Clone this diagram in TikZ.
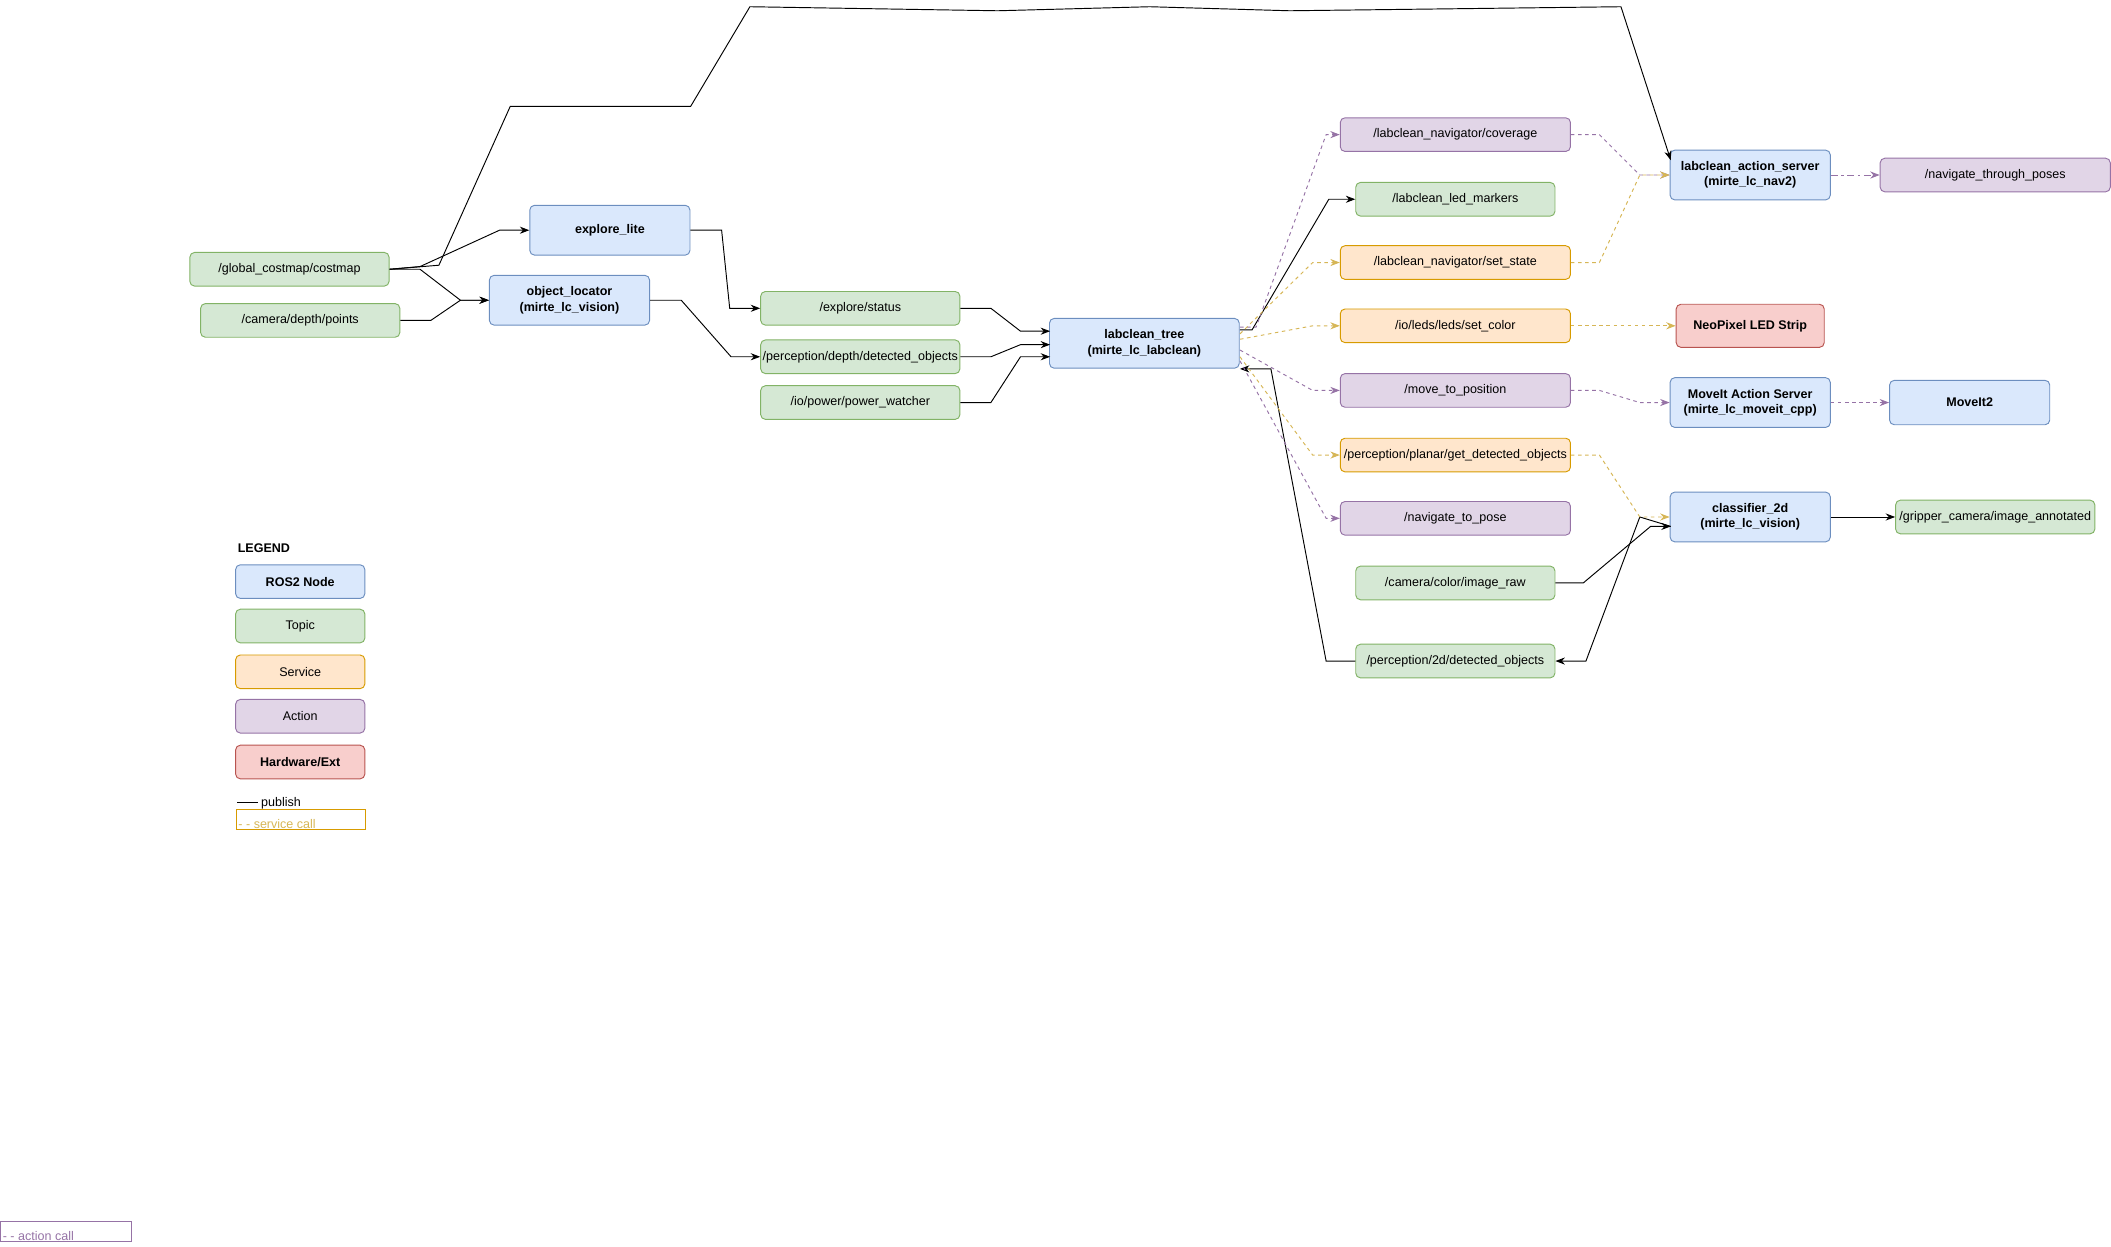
\documentclass[tikz,border=0pt]{standalone}
\usepackage{fontspec}
\setmainfont{Liberation Sans}
\usepackage{tikz}
\usetikzlibrary{arrows.meta,calc,positioning}
\definecolor{nodefill}{HTML}{DAE8FC}\definecolor{nodeline}{HTML}{6C8EBF}
\definecolor{topfill}{HTML}{D5E8D4}\definecolor{topline}{HTML}{82B366}
\definecolor{srvfill}{HTML}{FFE6CC}\definecolor{srvline}{HTML}{D79B00}
\definecolor{actfill}{HTML}{E1D5E7}\definecolor{actline}{HTML}{9673A6}
\definecolor{hwfill}{HTML}{F8CECC}\definecolor{hwline}{HTML}{B85450}
\definecolor{callsrv}{HTML}{D6B656}
\tikzset{
  txt/.style={font=\fontsize{5.3}{6.4}\selectfont},
  base/.style={draw,rounded corners=2pt,inner sep=0pt,align=center,txt},
  rosnode/.style={base,fill=nodefill,draw=nodeline,minimum width=2.38cm,minimum height=0.74cm,font=\fontsize{5.3}{6.4}\selectfont\bfseries},
  topic/.style={base,fill=topfill,draw=topline,minimum width=2.96cm,minimum height=0.5cm},
  service/.style={base,fill=srvfill,draw=srvline,minimum width=3.42cm,minimum height=0.5cm},
  action/.style={base,fill=actfill,draw=actline,minimum width=3.42cm,minimum height=0.5cm},
  hw/.style={base,fill=hwfill,draw=hwline,minimum width=2.2cm,minimum height=0.64cm,font=\fontsize{5.3}{6.4}\selectfont\bfseries},
  leg/.style={minimum width=1.92cm,minimum height=0.5cm},
  pub/.style={-{Stealth[length=4pt]},thin},
  srv/.style={-{Stealth[length=4pt]},thin,draw=callsrv,dash pattern=on 1.5pt off 1.5pt},
  act/.style={-{Stealth[length=4pt]},thin,draw=actline,dash pattern=on 1.5pt off 1.5pt},
}
\begin{document}
\begin{tikzpicture}[x=0.02cm,y=-0.02cm]
\useasboundingbox (0,0) rectangle (1568,926);
% left side
\node[topic] (glob) at (215,200) {/global\_costmap/costmap};
\node[topic] (depthpts) at (223,238) {/camera/depth/points};
\node[rosnode] (explore) at (453,171) {explore\_lite};
\node[rosnode] (locator) at (423,223) {object\_locator\\(mirte\_lc\_vision)};
\node[topic] (status) at (639,229) {/explore/status};
\node[topic] (detobj) at (639,265) {/perception/depth/detected\_objects};
\node[topic] (power) at (639,299) {/io/power/power\_watcher};
\node[rosnode,minimum width=2.82cm] (tree) at (850,255) {labclean\_tree\\(mirte\_lc\_labclean)};
% right column
\node[action] (coverage) at (1081,100) {/labclean\_navigator/coverage};
\node[topic] (leds) at (1081,148) {/labclean\_led\_markers};
\node[service] (setstate) at (1081,195) {/labclean\_navigator/set\_state};
\node[service] (setcolor) at (1081,242) {/io/leds/leds/set\_color};
\node[action] (movepos) at (1081,290) {/move\_to\_position};
\node[service] (getdet) at (1081,338) {/perception/planar/get\_detected\_objects};
\node[action] (navpose) at (1081,385) {/navigate\_to\_pose};
\node[topic] (imgraw) at (1081,433) {/camera/color/image\_raw};
\node[topic] (det2d) at (1081,491) {/perception/2d/detected\_objects};
\node[rosnode] (actsrv) at (1300,130) {labclean\_action\_server\\(mirte\_lc\_nav2)};
\node[action] (navposes) at (1482,130) {/navigate\_through\_poses};
\node[hw] (neopixel) at (1300,242) {NeoPixel LED Strip};
\node[rosnode] (moveitas) at (1300,299) {MoveIt Action Server\\(mirte\_lc\_moveit\_cpp)};
\node[rosnode,minimum height=0.66cm] (moveit) at (1463,299) {MoveIt2};
\node[rosnode] (classifier) at (1300,384) {classifier\_2d\\(mirte\_lc\_vision)};
\node[topic] (gripper) at (1482,384) {/gripper\_camera/image\_annotated};
% legend
\node[font=\fontsize{5.3}{6.4}\selectfont\bfseries] (legtitle) at (196,407) {LEGEND};
\node[rosnode,leg] (lnode) at (223,432) {ROS2 Node};
\node[topic,leg] (ltopic) at (223,465) {Topic};
\node[service,leg] (lsrv) at (223,499) {Service};
\node[action,leg] (lact) at (223,532) {Action};
\node[hw,leg] (lhw) at (223,566) {Hardware/Ext};
\node[anchor=west,inner sep=0pt,txt] (lpub) at (176,597) {\rule[0.6ex]{0.3cm}{0.4pt} publish};
\node[draw=srvline,thin,minimum width=1.92cm,minimum height=0.3cm,anchor=north west,inner sep=0pt] (lcall) at (175,601) {};
\node[anchor=west,inner sep=1pt,text=callsrv,txt] at ($(lcall.west)+(0,3)$) {- - service call};
\node[draw=actline,thin,minimum width=1.94cm,minimum height=0.3cm,anchor=north west,inner sep=0pt] (lactcall) at (0,907) {};
\node[anchor=west,inner sep=1pt,text=actline,txt] at ($(lactcall.west)+(0,3)$) {- - action call};
% publish connections
\draw[pub] (glob.east) -- (326,197) -- (379,79) -- (513,79) -- (557,5) -- (741,8) -- (854,5) -- (958,8) -- (1204,5) -- (1241,119);
\draw[pub] (glob.east) -- (312,198) -- (371,171) -- (explore.west);
\draw[pub] (glob.east) -- (312,200) -- (342,223) -- (locator.west);
\draw[pub] (depthpts.east) -- (320,238) -- (342,223) -- (locator.west);
\draw[pub] (explore.east) -- (536,171) -- (542,229) -- (status.west);
\draw[pub] (locator.east) -- (506,223) -- (543,265) -- (detobj.west);
\draw[pub] (status.east) -- (736,229) -- (758,246) -- (780,246);
\draw[pub] (detobj.east) -- (736,265) -- (758,256) -- (780,256);
\draw[pub] (power.east) -- (736,299) -- (758,265) -- (780,265);
\draw[pub] (921,245) -- (930,245) -- (987,148) -- (leds.west);
\draw[pub] (det2d.west) -- (985,491) -- (944,274) -- (921,274);
\draw[pub] (imgraw.east) -- (1176,433) -- (1226,391) -- (1241,391);
\draw[pub] (1241,391) -- (1218,384) -- (1178,491) -- (det2d.east);
\draw[pub] (classifier.east) -- (gripper.west);
% service and action calls
\draw[act] (921,243) -- (933,243) -- (985,100) -- (coverage.west);
\draw[srv] (921,248) -- (975,195) -- (setstate.west);
\draw[srv] (921,252) -- (975,242) -- (setcolor.west);
\draw[act] (921,260) -- (975,290) -- (movepos.west);
\draw[srv] (921,265) -- (975,338) -- (getdet.west);
\draw[act] (921,268) -- (985,385) -- (navpose.west);
\draw[act] (coverage.east) -- (1188,100) -- (1218,130) -- (actsrv.west);
\draw[srv] (setstate.east) -- (1188,195) -- (1218,130) -- (actsrv.west);
\draw[act,dash pattern=on 3pt off 1.5pt on 1pt off 1.5pt] (actsrv.east) -- (navposes.west);
\draw[srv] (setcolor.east) -- (neopixel.west);
\draw[act] (movepos.east) -- (1188,290) -- (1218,299) -- (moveitas.west);
\draw[act] (moveitas.east) -- (moveit.west);
\draw[srv] (getdet.east) -- (1188,338) -- (1218,384) -- (classifier.west);
\end{tikzpicture}
\end{document}
